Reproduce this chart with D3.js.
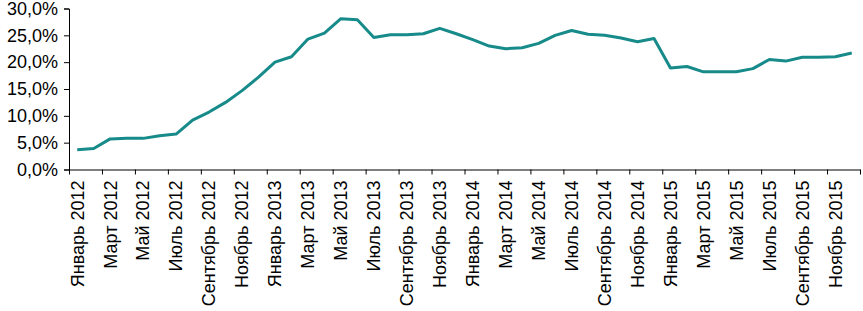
<!DOCTYPE html>
<html lang="ru">
<head>
<meta charset="UTF-8">
<title>chart</title>
<style>
  body { margin: 0; background: #fff; }
  text { font-family: "Liberation Sans", Arial, sans-serif; }
</style>
</head>
<body>
<script src="https://d3js.org/d3.v7.min.js"></script>
<script>
var monthNames = ["Январь", "Февраль", "Март", "Апрель", "Май", "Июнь",
                  "Июль", "Август", "Сентябрь", "Октябрь", "Ноябрь", "Декабрь"];
var years = [2012, 2013, 2014, 2015];
// share, %
var values = [
  3.7, 3.9, 5.7, 5.8, 5.8, 6.3, 6.6, 9.2, 10.7, 12.5, 14.7, 17.2,
  20.0, 21.0, 24.3, 25.4, 28.1, 27.9, 24.6, 25.1, 25.1, 25.3, 26.3, 25.3,
  24.2, 23.0, 22.5, 22.7, 23.5, 25.0, 25.9, 25.2, 25.0, 24.5, 23.8, 24.4,
  18.9, 19.2, 18.2, 18.2, 18.2, 18.8, 20.5, 20.2, 20.9, 20.9, 21.0, 21.7
];
var yTicks = [0, 5, 10, 15, 20, 25, 30];

var categories = [];
years.forEach(function(y){
  monthNames.forEach(function(m){ categories.push(m + " " + y); });
});

var width = 863, height = 311;
var mLeft = 69, mRight = 860, mTop = 8.5, mBottom = 169.5;

var svg = d3.select("body").append("svg")
  .attr("width", width)
  .attr("height", height);

var x = d3.scaleBand().domain(categories).range([mLeft, mRight]).padding(0);
var xb = d3.scaleLinear().domain([0, categories.length]).range([mLeft, mRight]);
var y = d3.scaleLinear().domain([0, 30]).range([mBottom, mTop]);

// y axis
var yAxis = svg.append("g")
  .attr("transform", "translate(" + mLeft + ",0)")
  .call(d3.axisLeft(y).tickValues(yTicks).tickSize(5).tickPadding(6)
    .tickFormat(function(d){ return d3.format(".1f")(d).replace(".", ",") + "%"; }));
yAxis.selectAll("text").attr("font-size", 18).attr("fill", "#000");
yAxis.selectAll("path, line").attr("stroke", "#000");

// x axis ticks at category borders
var xAxis = svg.append("g")
  .attr("transform", "translate(0," + mBottom + ")")
  .call(d3.axisBottom(xb).tickValues(d3.range(0, categories.length + 1, 2))
    .tickSize(5).tickSizeOuter(0).tickFormat(""));
xAxis.selectAll("path, line").attr("stroke", "#000");

// x labels, every second month
svg.append("g").selectAll("text")
  .data(categories.filter(function(d, i){ return i % 2 === 0; }))
  .enter().append("text")
  .attr("transform", function(d){
    return "translate(" + (x(d) + x.bandwidth() / 2) + "," + (mBottom + 11) + ") rotate(-90)";
  })
  .attr("text-anchor", "end")
  .attr("dy", "0.35em")
  .attr("font-size", 18)
  .attr("fill", "#000")
  .text(function(d){ return d; });

// line
var line = d3.line()
  .x(function(d, i){ return x(categories[i]) + x.bandwidth() / 2; })
  .y(function(d){ return y(d); });

svg.append("path")
  .datum(values)
  .attr("d", line)
  .attr("fill", "none")
  .attr("stroke", "#178a8a")
  .attr("stroke-width", 3)
  .attr("stroke-linejoin", "round");
</script>
</body>
</html>
